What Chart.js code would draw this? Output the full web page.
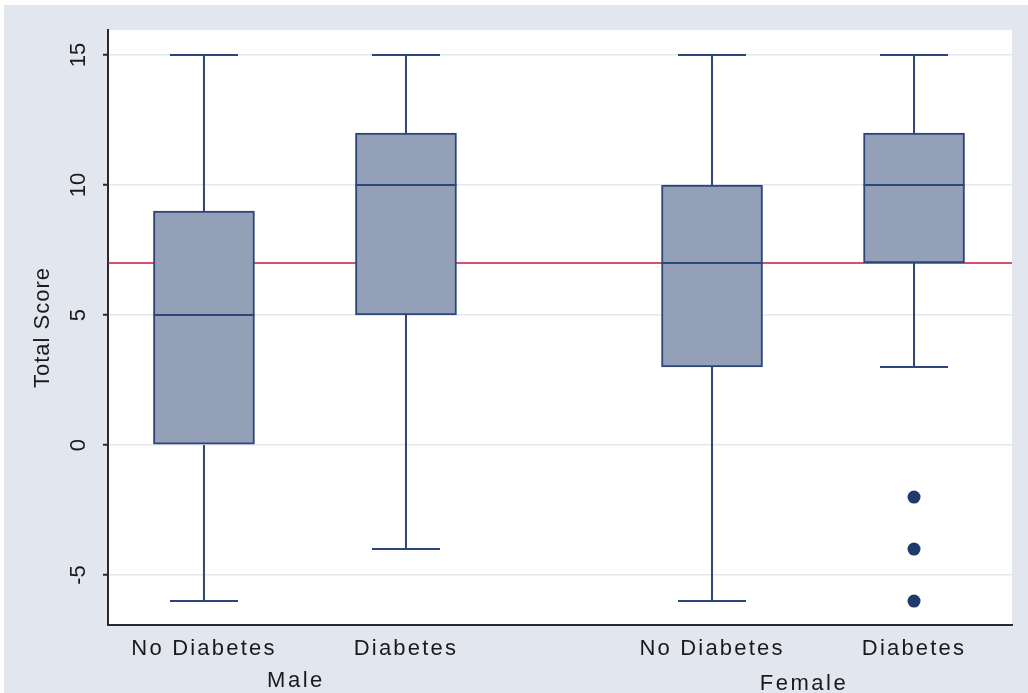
<!DOCTYPE html>
<html>
<head>
<meta charset="utf-8">
<script src="https://cdn.jsdelivr.net/npm/chart.js@4/dist/chart.umd.min.js"></script>
<style>
  html, body { margin: 0; padding: 0; background: #ffffff; }
  canvas { display: block; }
</style>
</head>
<body>
<canvas id="chart" width="1028" height="693"></canvas>
<script>
// Total score by diabetes status, split by sex
const groups = ['Male', 'Female'];
const categories = ['No Diabetes', 'Diabetes', 'No Diabetes', 'Diabetes'];
const categoryGroup = [0, 0, 1, 1];
const positions = [0.95, 2.95, 5.98, 7.98];
const whiskerLow = [-6, -4, -6, 3];
const quartile1 = [0, 5, 3, 7];
const medians = [5, 10, 7, 10];
const quartile3 = [9, 12, 10, 12];
const whiskerHigh = [15, 15, 15, 15];
const outlierCategory = [3, 3, 3];
const outlierValues = [-2, -4, -6];
const referenceValue = 7;
const yTickValues = [-5, 0, 5, 10, 15];

const FONT = '"Liberation Sans", Arial, sans-serif';
const BOX_FILL = '#94a0b7';
const BOX_LINE = '#2b4677';
const CAP_HALF = 0.337;
const BOX_HALF = 0.5;

// whisker stems and caps, broken into separate segments with null gaps
const whiskerPts = [];
const medianPts = [];
positions.forEach((p, i) => {
  whiskerPts.push({x: p, y: quartile3[i]}, {x: p, y: whiskerHigh[i]}, {x: p, y: null});
  whiskerPts.push({x: p - CAP_HALF, y: whiskerHigh[i]}, {x: p + CAP_HALF, y: whiskerHigh[i]}, {x: p, y: null});
  whiskerPts.push({x: p, y: quartile1[i]}, {x: p, y: whiskerLow[i]}, {x: p, y: null});
  whiskerPts.push({x: p - CAP_HALF, y: whiskerLow[i]}, {x: p + CAP_HALF, y: whiskerLow[i]}, {x: p, y: null});
  medianPts.push({x: p - BOX_HALF, y: medians[i]}, {x: p + BOX_HALF, y: medians[i]}, {x: p, y: null});
});

const X_MIN = 0, X_MAX = 8.95;

// draw a scale's tick labels / title with extra letter spacing
function spaced(scale, method, spacing) {
  if (scale['_spaced_' + method]) return;
  const orig = scale[method];
  scale[method] = function (...args) {
    const ctx = this.ctx;
    ctx.save();
    ctx.letterSpacing = spacing;
    orig.apply(this, args);
    ctx.restore();
  };
  scale['_spaced_' + method] = true;
}

const backgroundPlugin = {
  id: 'panels',
  beforeDraw(chart) {
    const {ctx, chartArea: a, width, height} = chart;
    ctx.save();
    ctx.fillStyle = '#e1e6ef';
    ctx.fillRect(4, 5, width - 4, height - 5);
    ctx.fillStyle = '#ffffff';
    ctx.fillRect(a.left, a.top, a.right - a.left, a.bottom - a.top);
    ctx.restore();
  }
};

const groupLabelPlugin = {
  id: 'groupLabels',
  afterDraw(chart) {
    const {ctx, scales: {x}} = chart;
    ctx.save();
    ctx.font = '22px ' + FONT;
    ctx.fillStyle = '#1a1a1a';
    ctx.textAlign = 'center';
    ctx.textBaseline = 'middle';
    ctx.letterSpacing = '2.5px';
    groups.forEach((g, gi) => {
      const members = positions.filter((_, i) => categoryGroup[i] === gi);
      const mid = (x.getPixelForValue(members[0]) + x.getPixelForValue(members[members.length - 1])) / 2;
      ctx.fillText(g, mid - 9, 681 + gi * 3);
    });
    ctx.restore();
  }
};

new Chart(document.getElementById('chart'), {
  type: 'bar',
  data: {
    datasets: [
      {
        type: 'line',
        data: [{x: X_MIN, y: referenceValue}, {x: X_MAX, y: referenceValue}],
        borderColor: '#c8173f',
        borderWidth: 1.6,
        pointRadius: 0,
        order: 4
      },
      {
        type: 'bar',
        data: positions.map((p, i) => ({x: p, y: [quartile1[i], quartile3[i]]})),
        backgroundColor: BOX_FILL,
        borderColor: BOX_LINE,
        borderWidth: 2,
        borderSkipped: false,
        barThickness: 101,
        grouped: false,
        order: 3
      },
      {
        type: 'line',
        data: whiskerPts,
        borderColor: BOX_LINE,
        borderWidth: 2,
        pointRadius: 0,
        spanGaps: false,
        order: 2
      },
      {
        type: 'line',
        data: medianPts,
        borderColor: BOX_LINE,
        borderWidth: 2,
        pointRadius: 0,
        spanGaps: false,
        order: 1
      },
      {
        type: 'scatter',
        data: outlierValues.map((v, i) => ({x: positions[outlierCategory[i]], y: v})),
        backgroundColor: '#1f3a6b',
        borderWidth: 0,
        pointRadius: 6.5,
        order: 0
      }
    ]
  },
  options: {
    responsive: false,
    animation: false,
    events: [],
    layout: {padding: {top: 30, right: 16, bottom: 0, left: 0}},
    plugins: {legend: {display: false}, tooltip: {enabled: false}},
    scales: {
      x: {
        type: 'linear',
        min: X_MIN,
        max: X_MAX,
        offset: false,
        afterBuildTicks(scale) { scale.ticks = positions.map(v => ({value: v})); },
        afterFit(scale) { scale.height = 68; spaced(scale, 'drawLabels', '2.2px'); },
        grid: {display: false, drawTicks: false},
        border: {display: true, color: '#2a2a2a', width: 2},
        ticks: {
          autoSkip: false,
          maxRotation: 0,
          padding: 11,
          color: '#1a1a1a',
          font: {family: FONT, size: 22},
          callback: (v, i) => categories[i]
        }
      },
      y: {
        type: 'linear',
        min: -6.92,
        max: 15.96,
        afterBuildTicks(scale) { scale.ticks = yTickValues.map(v => ({value: v})); },
        afterFit(scale) { scale.width = 108; spaced(scale, 'drawTitle', '1px'); },
        grid: {color: '#e3e8f1', lineWidth: 1.5, drawTicks: true, tickLength: 5, tickColor: '#2a2a2a', tickWidth: 2},
        border: {display: true, color: '#2a2a2a', width: 2},
        ticks: {
          minRotation: 90,
          maxRotation: 90,
          crossAlign: 'center',
          padding: 12,
          color: '#1a1a1a',
          font: {family: FONT, size: 22}
        },
        title: {
          display: true,
          text: 'Total Score',
          color: '#1a1a1a',
          font: {family: FONT, size: 22},
          padding: {top: 30, bottom: 0}
        }
      }
    }
  },
  plugins: [backgroundPlugin, groupLabelPlugin]
});
</script>
</body>
</html>
